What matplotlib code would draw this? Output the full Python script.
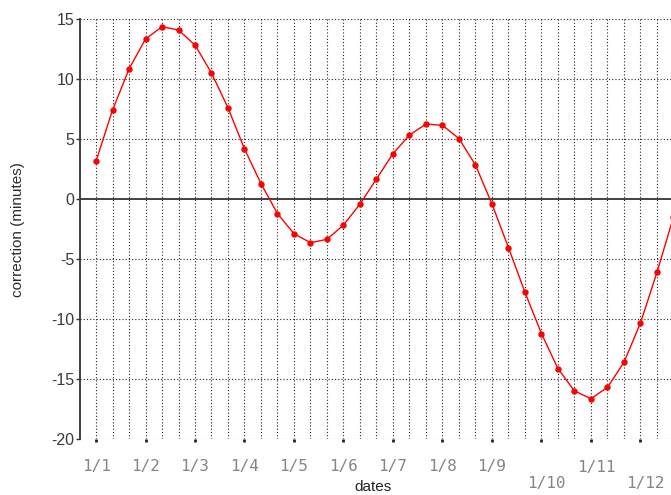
import matplotlib
matplotlib.use("Agg")
import matplotlib.pyplot as plt

# data: equation-of-time correction, three readings per month (1st, 11th, 21st)
values = [3.14, 7.4, 10.83, 13.33, 14.36, 14.08, 12.83, 10.5, 7.6, 4.17,
          1.28, -1.22, -2.89, -3.64, -3.36, -2.17, -0.42, 1.67, 3.78, 5.33,
          6.25, 6.14, 5.03, 2.83, -0.42, -4.05, -7.78, -11.22, -14.14, -16.0,
          -16.64, -15.69, -13.61, -10.33, -6.11, -1.5]
month_labels = ['1/1', '1/2', '1/3', '1/4', '1/5', '1/6', '1/7', '1/8',
                '1/9', '1/10', '1/11', '1/12']
y_ticks = [-20, -15, -10, -5, 0, 5, 10, 15]
points_per_month = 3

fig = plt.figure(figsize=(6.71, 4.95), dpi=100)
ax = fig.add_axes([80/671, 1-439/495, 1-80/671, (439-19)/495])

xs = list(range(len(values)))
ax.set_xlim(-0.97, 34.85)
ax.set_ylim(-20, 15)

dot = (0, (1, 1.9))
# vertical dotted grid
for i in range(0, 35):
    ax.axvline(i, color='#222222', lw=0.8, ls=dot, zorder=1)
# horizontal dotted grid
for v in y_ticks:
    if v != 0:
        ax.axhline(v, color='#222222', lw=0.8, ls=dot, zorder=1)
ax.axhline(0, color='#333333', lw=1.3, zorder=2)

ax.plot(xs, values, color='#ff0000', lw=1.0, marker='o', markersize=4.6,
        markeredgewidth=0, zorder=3)

for s in ['top', 'right', 'bottom']:
    ax.spines[s].set_visible(False)
ax.spines['left'].set_color('#333333')
ax.spines['left'].set_linewidth(1.3)

ax.set_yticks(y_ticks)
ax.set_yticklabels([str(v) for v in y_ticks], fontfamily='Liberation Sans',
                   fontsize=11.5, color='#3a3a3a')
ax.tick_params(axis='y', length=3, width=1, color='#333333', pad=1)

month_pos = [k * points_per_month for k in range(len(month_labels))]
ax.set_xticks(month_pos)
ax.set_xticklabels([])
ax.tick_params(axis='x', length=2, width=2, color='#222222', direction='out', pad=0)

for k, lab in enumerate(month_labels):
    dx = 0.3 if len(lab) > 3 else 0.0
    y = -22.25
    if lab in ('1/10', '1/12'):
        y = -23.7
    elif lab == '1/11':
        y = -22.4
    ax.text(month_pos[k] + dx, y, lab, ha='center', va='center',
            fontfamily='DejaVu Sans Mono', fontsize=11.5, color='#858585',
            clip_on=False)

ax.text(16.8, -24.0, 'dates', ha='center', va='center',
        fontfamily='Liberation Sans', fontsize=11, color='#222222', clip_on=False)
fig.text(18/671, 1-230/495, 'correction (minutes)', rotation=90, ha='center',
         va='center', fontfamily='Liberation Sans', fontsize=11, color='#2a2a2a')

fig.savefig('out.png', dpi=100)
